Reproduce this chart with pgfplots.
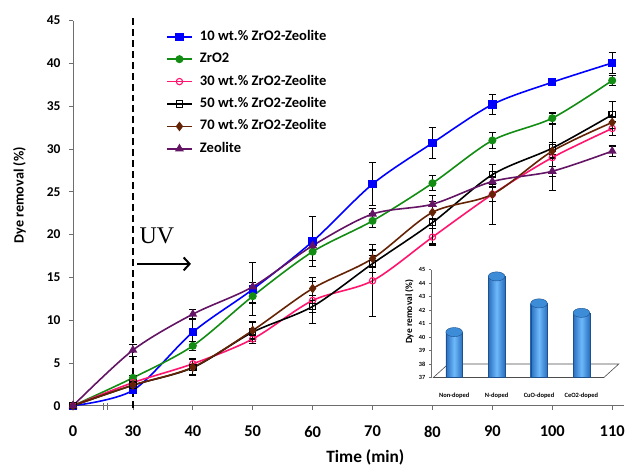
\documentclass[border=0pt]{standalone}
\usepackage{pgfplots}
\pgfplotsset{compat=1.18}
\usepackage{pgfplotstable}
\usepackage{fontspec}
\setmainfont{Carlito}
\newfontfamily\timesf{Liberation Serif}
\usetikzlibrary{arrows.meta}

\definecolor{cBlue}{RGB}{0,0,255}
\definecolor{cGreen}{RGB}{18,140,18}
\definecolor{cPink}{RGB}{255,20,110}
\definecolor{cBrown}{RGB}{100,35,5}
\definecolor{cPurple}{RGB}{100,20,100}
\definecolor{barEdge}{RGB}{40,110,190}
\definecolor{barMid}{RGB}{110,185,250}
\definecolor{barTop}{RGB}{60,140,215}
\definecolor{barLine}{RGB}{30,80,140}
\definecolor{axGray}{RGB}{110,110,110}

% x = category position (0 -> 0 min, 1 -> 30 min, 2 -> 40 min, ..., 9 -> 110 min)
\pgfplotstableread{
x  b     be    g     ge   p     pe   k     ke   r     re   v     ve
0  0     0     0     0    0     0    0     0    0     0    0     0
1  1.8   0.2   3.26  0.3  2.7   0.3  2.4   0.3  2.4   0.2  6.5   0.7
2  8.6   1.5   7.0   0.5  4.9   0.6  4.45  0.9  4.5   0.9  10.7  0.5
3  13.6  3.1   12.8  0.8  7.8   0.5  8.6   1.1  8.8   1.0  13.9  0.5
4  19.2  2.9   18.0  1.0  12.3  2.7  11.6  0.7  13.7  0.8  18.7  0.6
5  25.9  2.5   21.6  0.8  14.6  4.2  16.6  1.0  17.2  1.0  22.4  0.6
6  30.7  1.85  26.0  0.9  19.7  1.0  21.4  2.5  22.6  0.7  23.55 1.0
7  35.2  1.2   31.0  0.9  24.7  3.5  27.0  1.2  24.7  0.8  26.2  0.6
8  37.8  0.4   33.6  0.6  29.0  3.9  30.1  0.7  29.75 0.8  27.4  0.6
9  40.05 1.25  38.0  0.6  32.4  0.8  34.0  1.6  33.1  0.7  29.75 0.6
}\dyedata

\pgfplotsset{
  ebar/.style={
    error bars/.cd, y dir=both, y explicit,
    error bar style={black, line width=1.1pt, solid},
    error mark options={black, rotate=90, mark size=3.6pt, line width=1.1pt, solid},
  },
}

\begin{document}
\begin{tikzpicture}
\begin{axis}[
  name=main,
  at={(0pt,0pt)}, anchor=south west,
  width=552.7pt, height=386.6pt, scale only axis,
  xmin=0, xmax=9.19, ymin=0, ymax=45,
  axis lines*=left,
  axis line style={axGray, line width=0.8pt},
  tick style={axGray, line width=0.8pt},
  tick align=outside, major tick length=4pt,
  xtick={0,1,2,3,4,5,6,7,8,9},
  xticklabels={0,30,40,50,60,70,80,90,100,110},
  ytick={0,5,10,15,20,25,30,35,40,45},
  /pgf/number format/assume math mode=true,
  xticklabel style={font=\fontsize{16.5}{18}\selectfont\bfseries, yshift=-13pt},
  yticklabel style={font=\fontsize{13.5}{16}\selectfont\bfseries, xshift=-5pt},
  xlabel={Time (min)},
  xlabel style={at={(axis description cs:0.531,0)}, anchor=center, yshift=-51.7pt,
                font=\fontsize{17.4}{20}\selectfont\bfseries},
  ylabel={Dye removal (\%)},
  ylabel style={at={(axis description cs:-0.0973,0.5466)}, anchor=center,
                font=\fontsize{14.2}{17}\selectfont\bfseries},
  clip=false,
  legend cell align=left,
  legend style={at={(axis description cs:0.1689,0.9877)}, anchor=north west,
                draw=none, fill=none, inner sep=0pt, row sep=0pt,
                font=\fontsize{14.6}{17}\selectfont\bfseries,
                nodes={inner xsep=0pt, inner ysep=4.25pt, text height=10.5pt, text depth=3.5pt}},
  legend image code/.code={
    \draw[#1, mark repeat=2, mark phase=2] plot coordinates {(0pt,0pt) (12.5pt,0pt) (25pt,0pt)};
    \path (0pt,0pt) (32.3pt,0pt);
  },
  every axis plot/.append style={line width=1.6pt, smooth, tension=0.5},
]
\addplot[cBlue, mark=square*, mark size=3.4pt, mark options={solid, fill=cBlue}, ebar]
  table[x=x, y=b, y error=be] {\dyedata};
\addlegendentry{10 wt.\% ZrO2-Zeolite}
\addplot[cGreen, mark=*, mark size=3.2pt, mark options={solid, fill=cGreen}, ebar]
  table[x=x, y=g, y error=ge] {\dyedata};
\addlegendentry{ZrO2}
\addplot[cPink, mark=o, mark size=3.2pt, mark options={solid, fill=white, line width=1.1pt}, ebar]
  table[x=x, y=p, y error=pe] {\dyedata};
\addlegendentry{30 wt.\% ZrO2-Zeolite}
\addplot[black, mark=square, mark size=3.2pt, mark options={solid, fill=white, line width=1.1pt}, ebar]
  table[x=x, y=k, y error=ke] {\dyedata};
\addlegendentry{50 wt.\% ZrO2-Zeolite}
\addplot[cBrown, mark=diamond*, mark size=3.6pt, mark options={solid, fill=cBrown}, ebar]
  table[x=x, y=r, y error=re] {\dyedata};
\addlegendentry{70 wt.\% ZrO2-Zeolite}
\addplot[cPurple, mark=triangle*, mark size=3.6pt, mark options={solid, fill=cPurple}, ebar]
  table[x=x, y=v, y error=ve] {\dyedata};
\addlegendentry{Zeolite}

% UV onset line, label and arrow
\draw[black, line width=1.6pt, dash pattern=on 7pt off 4pt] (axis cs:1,-0.3) -- (axis cs:1,45.7);
\node[anchor=base west, inner sep=0pt, font=\timesf\fontsize{24}{28}\selectfont] at (axis cs:1.109,18.9) {UV};
\draw[black, line width=2pt, -{Straight Barb[length=6pt, width=13pt, line width=2pt]}] (axis cs:1.071,16.57) -- (axis cs:1.969,16.57);
% axis break mark
\draw[axGray, line width=1pt] (axis cs:0.515,-0.5) -- (axis cs:0.515,0.3);
\draw[axGray, line width=1pt] (axis cs:0.57,-0.5) -- (axis cs:0.57,0.3);
\end{axis}

% inset bar chart
\begin{axis}[
  at={(359.7pt,28.3pt)}, anchor=south west,
  width=189pt, height=108.3pt, scale only axis,
  xmin=-0.539, xmax=3.9, ymin=37, ymax=45,
  axis x line*=bottom, axis y line*=left,
  x axis line style={draw=none},
  y axis line style={axGray, line width=0.6pt},
  ytick={37,38,39,40,41,42,43,44,45},
  xtick={0,1,2,3},
  xticklabels={Non-doped,N-doped,CuO-doped,CeO2-doped},
  major x tick style={draw=none},
  major y tick style={axGray, line width=0.6pt},
  tick align=outside, major tick length=2.5pt,
  /pgf/number format/assume math mode=true,
  xticklabel style={font=\fontsize{6.5}{8}\selectfont\bfseries, yshift=-9pt},
  yticklabel style={font=\fontsize{6.3}{8}\selectfont\bfseries, xshift=0pt},
  ylabel={Dye removal (\%)},
  ylabel style={font=\fontsize{9.5}{11}\selectfont\bfseries, at={(axis description cs:-0.1164,0.609)}, anchor=center},
  ybar, bar width=16.7pt, bar shift=0pt,
]
\draw[gray!60!black, line width=0.6pt, fill=white]
  (axis cs:-0.492,37) -- (axis cs:3.529,37) -- (axis cs:3.88,38) -- (axis cs:-0.141,38) -- cycle;
\addplot[draw=barLine, line width=0.3pt, left color=barEdge, right color=barEdge, middle color=barMid,
  mark=*, mark size=8.35pt, mark options={yscale=0.55, fill=barTop, draw=barLine, line width=0.4pt}]
  coordinates {(0,40.37)};
\addplot[draw=barLine, line width=0.3pt, left color=barEdge, right color=barEdge, middle color=barMid,
  mark=*, mark size=8.35pt, mark options={yscale=0.55, fill=barTop, draw=barLine, line width=0.4pt}]
  coordinates {(1,44.5)};
\addplot[draw=barLine, line width=0.3pt, left color=barEdge, right color=barEdge, middle color=barMid,
  mark=*, mark size=8.35pt, mark options={yscale=0.55, fill=barTop, draw=barLine, line width=0.4pt}]
  coordinates {(2,42.5)};
\addplot[draw=barLine, line width=0.3pt, left color=barEdge, right color=barEdge, middle color=barMid,
  mark=*, mark size=8.35pt, mark options={yscale=0.55, fill=barTop, draw=barLine, line width=0.4pt}]
  coordinates {(3,41.8)};
\end{axis}

% fix picture extent to reference proportions
\path (-73.3pt,-59.7pt) rectangle (554.7pt,407.3pt);
\end{tikzpicture}
\end{document}
